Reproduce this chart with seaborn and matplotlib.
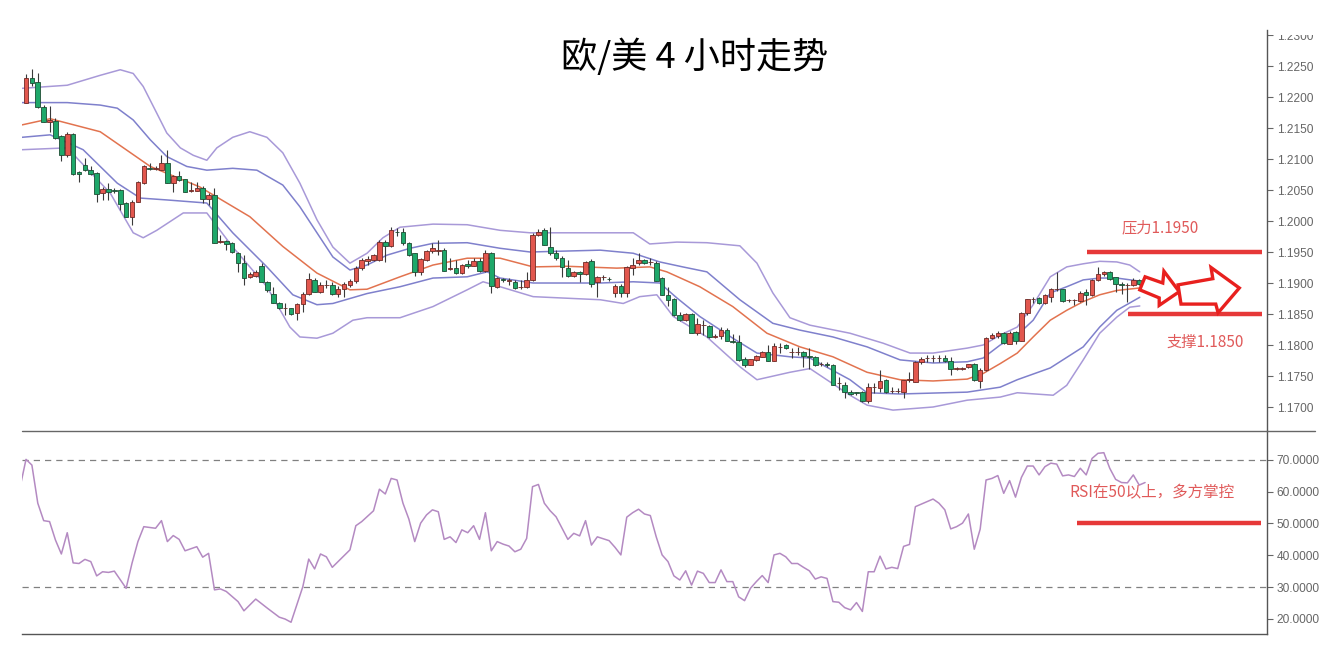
import numpy as np
import pandas as pd
import seaborn as sns
import matplotlib.pyplot as plt
from matplotlib.patches import Polygon, Rectangle
from matplotlib.lines import Line2D
from matplotlib.ticker import FormatStrFormatter

# ---- 4h candles (index 0 = first bar on the left) ----
candle_open = [
    1.2191, 1.2230, 1.2224, 1.2184, 1.2159, 1.2162, 1.2137, 1.2106, 1.2140, 1.2079,
    1.2091, 1.2083, 1.2078, 1.2045, 1.2052, 1.2050, 1.2050, 1.2029, 1.2007, 1.2031,
    1.2061, 1.2085, 1.2084, 1.2083, 1.2094, 1.2062, 1.2073, 1.2067, 1.2049, 1.2049,
    1.2053, 1.2035, 1.2042, 1.1966, 1.1968, 1.1965, 1.1949, 1.1933, 1.1909, 1.1912,
    1.1927, 1.1902, 1.1883, 1.1868, 1.1859, 1.1859, 1.1851, 1.1866, 1.1882, 1.1905,
    1.1886, 1.1896, 1.1897, 1.1882, 1.1890, 1.1897, 1.1903, 1.1925, 1.1935, 1.1937,
    1.1937, 1.1966, 1.1960, 1.1983, 1.1983, 1.1964, 1.1948, 1.1918, 1.1937, 1.1951,
    1.1951, 1.1954, 1.1923, 1.1924, 1.1916, 1.1931, 1.1928, 1.1936, 1.1919, 1.1948,
    1.1894, 1.1906, 1.1904, 1.1902, 1.1893, 1.1893, 1.1905, 1.1977, 1.1985, 1.1958,
    1.1948, 1.1941, 1.1925, 1.1911, 1.1918, 1.1914, 1.1935, 1.1901, 1.1909, 1.1907,
    1.1884, 1.1895, 1.1884, 1.1924, 1.1932, 1.1937, 1.1934, 1.1933, 1.1908, 1.1881,
    1.1874, 1.1848, 1.1840, 1.1850, 1.1820, 1.1832, 1.1831, 1.1813, 1.1815, 1.1825,
    1.1806, 1.1805, 1.1777, 1.1768, 1.1776, 1.1781, 1.1789, 1.1775, 1.1797, 1.1800,
    1.1788, 1.1788, 1.1788, 1.1782, 1.1781, 1.1769, 1.1769, 1.1768, 1.1738, 1.1735,
    1.1725, 1.1724, 1.1725, 1.1709, 1.1732, 1.1730, 1.1744, 1.1726, 1.1726, 1.1725,
    1.1744, 1.1741, 1.1772, 1.1779, 1.1779, 1.1779, 1.1779, 1.1774, 1.1762, 1.1762,
    1.1764, 1.1770, 1.1742, 1.1759, 1.1812, 1.1814, 1.1819, 1.1802, 1.1821, 1.1807,
    1.1852, 1.1874, 1.1876, 1.1867, 1.1878, 1.1890, 1.1890, 1.1872, 1.1872, 1.1871,
    1.1885, 1.1880, 1.1905, 1.1914, 1.1917, 1.1909, 1.1899, 1.1897, 1.1897, 1.1905,
    1.1898,
]
candle_close = [
    1.2230, 1.2223, 1.2184, 1.2160, 1.2163, 1.2134, 1.2106, 1.2140, 1.2076, 1.2076,
    1.2082, 1.2076, 1.2043, 1.2051, 1.2047, 1.2049, 1.2027, 1.2007, 1.2031, 1.2063,
    1.2088, 1.2084, 1.2085, 1.2094, 1.2062, 1.2073, 1.2066, 1.2047, 1.2049, 1.2053,
    1.2035, 1.2042, 1.1965, 1.1967, 1.1963, 1.1950, 1.1933, 1.1908, 1.1914, 1.1917,
    1.1902, 1.1888, 1.1868, 1.1859, 1.1859, 1.1850, 1.1866, 1.1883, 1.1906, 1.1886,
    1.1897, 1.1896, 1.1882, 1.1890, 1.1898, 1.1903, 1.1924, 1.1937, 1.1939, 1.1945,
    1.1966, 1.1960, 1.1986, 1.1982, 1.1964, 1.1945, 1.1918, 1.1938, 1.1951, 1.1956,
    1.1954, 1.1920, 1.1924, 1.1916, 1.1929, 1.1928, 1.1936, 1.1919, 1.1948, 1.1895,
    1.1908, 1.1905, 1.1904, 1.1892, 1.1893, 1.1905, 1.1977, 1.1983, 1.1961, 1.1948,
    1.1941, 1.1926, 1.1911, 1.1918, 1.1915, 1.1934, 1.1899, 1.1910, 1.1909, 1.1906,
    1.1895, 1.1884, 1.1926, 1.1929, 1.1937, 1.1932, 1.1934, 1.1904, 1.1881, 1.1873,
    1.1848, 1.1840, 1.1850, 1.1820, 1.1834, 1.1832, 1.1813, 1.1814, 1.1824, 1.1807,
    1.1805, 1.1776, 1.1768, 1.1777, 1.1782, 1.1788, 1.1775, 1.1798, 1.1797, 1.1795,
    1.1788, 1.1788, 1.1782, 1.1781, 1.1768, 1.1769, 1.1768, 1.1736, 1.1738, 1.1725,
    1.1721, 1.1722, 1.1709, 1.1733, 1.1732, 1.1742, 1.1725, 1.1726, 1.1726, 1.1743,
    1.1744, 1.1773, 1.1777, 1.1779, 1.1779, 1.1779, 1.1774, 1.1761, 1.1762, 1.1762,
    1.1769, 1.1743, 1.1759, 1.1811, 1.1816, 1.1819, 1.1803, 1.1820, 1.1807, 1.1852,
    1.1874, 1.1874, 1.1867, 1.1880, 1.1890, 1.1890, 1.1871, 1.1872, 1.1872, 1.1884,
    1.1880, 1.1905, 1.1915, 1.1917, 1.1907, 1.1899, 1.1897, 1.1897, 1.1905, 1.1898,
    1.1901,
]
candle_high = [
    1.2237, 1.2245, 1.2239, 1.2187, 1.2186, 1.2166, 1.2139, 1.2144, 1.2142, 1.2081,
    1.2101, 1.2088, 1.2079, 1.2055, 1.2061, 1.2053, 1.2052, 1.2030, 1.2034, 1.2065,
    1.2090, 1.2093, 1.2088, 1.2106, 1.2115, 1.2074, 1.2080, 1.2068, 1.2063, 1.2063,
    1.2056, 1.2045, 1.2053, 1.1977, 1.1970, 1.1966, 1.1950, 1.1945, 1.1918, 1.1921,
    1.1932, 1.1903, 1.1894, 1.1870, 1.1867, 1.1860, 1.1867, 1.1886, 1.1916, 1.1908,
    1.1902, 1.1905, 1.1902, 1.1895, 1.1902, 1.1906, 1.1928, 1.1941, 1.1944, 1.1947,
    1.1969, 1.1969, 1.1991, 1.1989, 1.1989, 1.1966, 1.1949, 1.1940, 1.1953, 1.1964,
    1.1969, 1.1956, 1.1940, 1.1937, 1.1931, 1.1937, 1.1940, 1.1940, 1.1953, 1.1950,
    1.1910, 1.1908, 1.1908, 1.1905, 1.1905, 1.1918, 1.1980, 1.1987, 1.1988, 1.1990,
    1.1953, 1.1943, 1.1937, 1.1920, 1.1919, 1.1936, 1.1938, 1.1911, 1.1913, 1.1910,
    1.1899, 1.1898, 1.1928, 1.1940, 1.1948, 1.1939, 1.1940, 1.1935, 1.1909, 1.1894,
    1.1876, 1.1854, 1.1851, 1.1851, 1.1843, 1.1840, 1.1833, 1.1818, 1.1829, 1.1827,
    1.1818, 1.1816, 1.1781, 1.1778, 1.1784, 1.1790, 1.1800, 1.1803, 1.1803, 1.1801,
    1.1795, 1.1797, 1.1790, 1.1795, 1.1782, 1.1772, 1.1772, 1.1769, 1.1749, 1.1741,
    1.1727, 1.1725, 1.1726, 1.1738, 1.1738, 1.1760, 1.1745, 1.1733, 1.1730, 1.1744,
    1.1757, 1.1774, 1.1780, 1.1784, 1.1784, 1.1784, 1.1784, 1.1781, 1.1764, 1.1764,
    1.1770, 1.1771, 1.1763, 1.1813, 1.1820, 1.1822, 1.1821, 1.1822, 1.1823, 1.1854,
    1.1875, 1.1878, 1.1878, 1.1882, 1.1892, 1.1917, 1.1891, 1.1875, 1.1875, 1.1887,
    1.1890, 1.1906, 1.1926, 1.1919, 1.1920, 1.1910, 1.1902, 1.1900, 1.1908, 1.1906,
    1.1904,
]
candle_low = [
    1.2190, 1.2217, 1.2183, 1.2159, 1.2144, 1.2133, 1.2096, 1.2103, 1.2074, 1.2063,
    1.2080, 1.2074, 1.2031, 1.2034, 1.2034, 1.2045, 1.2018, 1.2006, 1.1994, 1.2030,
    1.2060, 1.2082, 1.2082, 1.2082, 1.2061, 1.2047, 1.2065, 1.2046, 1.2047, 1.2048,
    1.2029, 1.2026, 1.1964, 1.1964, 1.1953, 1.1949, 1.1918, 1.1897, 1.1908, 1.1910,
    1.1901, 1.1886, 1.1867, 1.1858, 1.1848, 1.1848, 1.1840, 1.1854, 1.1881, 1.1885,
    1.1884, 1.1892, 1.1881, 1.1878, 1.1878, 1.1893, 1.1900, 1.1921, 1.1929, 1.1935,
    1.1935, 1.1934, 1.1958, 1.1976, 1.1961, 1.1944, 1.1911, 1.1913, 1.1936, 1.1948,
    1.1945, 1.1919, 1.1921, 1.1914, 1.1914, 1.1924, 1.1927, 1.1918, 1.1917, 1.1884,
    1.1892, 1.1901, 1.1897, 1.1890, 1.1890, 1.1892, 1.1904, 1.1976, 1.1961, 1.1945,
    1.1937, 1.1910, 1.1910, 1.1909, 1.1902, 1.1913, 1.1893, 1.1877, 1.1905, 1.1903,
    1.1877, 1.1877, 1.1878, 1.1913, 1.1929, 1.1931, 1.1929, 1.1903, 1.1880, 1.1863,
    1.1847, 1.1838, 1.1839, 1.1819, 1.1816, 1.1816, 1.1812, 1.1812, 1.1809, 1.1806,
    1.1803, 1.1775, 1.1765, 1.1767, 1.1775, 1.1780, 1.1774, 1.1774, 1.1787, 1.1794,
    1.1779, 1.1784, 1.1765, 1.1762, 1.1766, 1.1766, 1.1764, 1.1735, 1.1727, 1.1715,
    1.1719, 1.1719, 1.1708, 1.1706, 1.1722, 1.1725, 1.1722, 1.1722, 1.1722, 1.1714,
    1.1741, 1.1740, 1.1770, 1.1773, 1.1773, 1.1773, 1.1773, 1.1752, 1.1760, 1.1760,
    1.1763, 1.1742, 1.1730, 1.1758, 1.1810, 1.1812, 1.1802, 1.1801, 1.1802, 1.1806,
    1.1848, 1.1868, 1.1866, 1.1866, 1.1870, 1.1887, 1.1870, 1.1869, 1.1864, 1.1870,
    1.1864, 1.1879, 1.1904, 1.1912, 1.1905, 1.1886, 1.1883, 1.1870, 1.1895, 1.1897,
    1.1896,
]

# ---- Bollinger lines: (bar index, price) ----
upper_outer = [(-0.7, 1.2214), (7.0, 1.2219), (12.6, 1.2235), (16.0, 1.2244), (18.2, 1.2238),
               (19.9, 1.2217), (22.2, 1.2174), (23.9, 1.2142), (26.2, 1.2118), (28.4, 1.2106),
               (30.7, 1.2098), (32.4, 1.2118), (35.1, 1.2135), (38.0, 1.2144), (40.9, 1.2135),
               (43.6, 1.2110), (46.5, 1.2061), (49.4, 1.2002), (52.1, 1.1958), (55.0, 1.1932),
               (57.9, 1.1948), (60.6, 1.1973), (63.5, 1.1990), (69.1, 1.1995), (74.9, 1.1994),
               (80.5, 1.1985), (85.6, 1.1981), (97.5, 1.1981), (103.1, 1.1981), (105.9, 1.1963),
               (110.5, 1.1966), (115.6, 1.1965), (121.2, 1.1960), (124.1, 1.1932), (126.8, 1.1884),
               (129.7, 1.1844), (133.1, 1.1832), (139.9, 1.1819), (145.5, 1.1803), (150.1, 1.1787),
               (154.0, 1.1787), (159.8, 1.1795), (162.5, 1.1800), (165.4, 1.1816), (168.3, 1.1829),
               (171.0, 1.1865), (173.9, 1.1910), (176.7, 1.1926), (179.5, 1.1931), (182.3, 1.1935),
               (185.2, 1.1934), (187.4, 1.1929), (189.1, 1.1918)]
upper_inner = [(-0.7, 1.2191), (7.0, 1.2191), (12.6, 1.2187), (15.5, 1.2182), (18.2, 1.2163),
               (21.1, 1.2131), (23.9, 1.2104), (27.3, 1.2088), (30.7, 1.2082), (35.1, 1.2085),
               (39.2, 1.2082), (43.6, 1.2058), (46.5, 1.2023), (49.4, 1.1981), (52.1, 1.1942),
               (55.0, 1.1921), (57.9, 1.1929), (61.3, 1.1945), (65.2, 1.1956), (69.1, 1.1964),
               (74.9, 1.1965), (80.5, 1.1956), (85.6, 1.1950), (97.5, 1.1953), (103.1, 1.1948),
               (107.6, 1.1934), (111.5, 1.1926), (115.6, 1.1918), (121.2, 1.1873), (126.8, 1.1835),
               (131.4, 1.1824), (137.0, 1.1813), (142.8, 1.1797), (148.4, 1.1776), (154.0, 1.1771),
               (159.8, 1.1773), (162.5, 1.1779), (165.4, 1.1800), (168.3, 1.1816), (171.0, 1.1840),
               (173.9, 1.1884), (176.7, 1.1894), (179.5, 1.1905), (182.3, 1.1908), (185.2, 1.1908),
               (189.1, 1.1903)]
middle = [(-0.7, 1.2155), (4.1, 1.2165), (12.6, 1.2144), (21.1, 1.2088), (29.5, 1.2055),
          (38.0, 1.2007), (43.6, 1.1959), (49.4, 1.1916), (55.0, 1.1889), (57.9, 1.1890),
          (63.5, 1.1910), (69.1, 1.1929), (74.9, 1.1940), (80.5, 1.1940), (86.1, 1.1926),
          (91.8, 1.1927), (100.3, 1.1924), (105.9, 1.1926), (108.8, 1.1918), (114.4, 1.1894),
          (120.0, 1.1862), (125.8, 1.1819), (131.4, 1.1797), (137.0, 1.1781), (142.8, 1.1756),
          (148.4, 1.1744), (154.0, 1.1742), (159.8, 1.1745), (162.5, 1.1754), (165.4, 1.1770),
          (168.3, 1.1787), (171.0, 1.1813), (173.9, 1.1840), (176.7, 1.1856), (179.5, 1.1870),
          (182.3, 1.1881), (185.2, 1.1888), (189.1, 1.1892)]
lower_inner = [(-0.7, 1.2135), (4.1, 1.2139), (9.7, 1.2115), (15.5, 1.2061), (19.4, 1.2037),
               (23.9, 1.2034), (30.7, 1.2029), (35.1, 1.1981), (40.9, 1.1926), (45.3, 1.1881),
               (49.4, 1.1865), (52.1, 1.1867), (57.9, 1.1883), (63.5, 1.1894), (69.1, 1.1908),
               (74.9, 1.1910), (78.3, 1.1918), (80.5, 1.1908), (86.1, 1.1900), (97.5, 1.1900),
               (103.1, 1.1902), (107.6, 1.1900), (110.5, 1.1876), (114.4, 1.1846), (120.0, 1.1811),
               (124.1, 1.1787), (129.7, 1.1781), (133.1, 1.1779), (139.9, 1.1744), (142.8, 1.1723),
               (148.4, 1.1721), (159.8, 1.1724), (165.4, 1.1732), (168.3, 1.1744), (173.9, 1.1763),
               (179.5, 1.1797), (182.3, 1.1829), (185.2, 1.1856), (189.1, 1.1877)]
lower_outer = [(-0.7, 1.2115), (7.0, 1.2118), (14.3, 1.2045), (18.2, 1.1981), (19.9, 1.1973),
               (22.2, 1.1985), (26.7, 1.2013), (30.7, 1.2013), (35.1, 1.1958), (40.9, 1.1894),
               (44.8, 1.1829), (46.5, 1.1813), (49.4, 1.1811), (52.1, 1.1819), (55.5, 1.1840),
               (57.9, 1.1844), (63.5, 1.1844), (69.1, 1.1862), (74.9, 1.1889), (77.6, 1.1902),
               (80.5, 1.1894), (86.1, 1.1878), (97.5, 1.1873), (101.4, 1.1867), (104.2, 1.1878),
               (107.1, 1.1881), (109.9, 1.1846), (115.6, 1.1813), (121.2, 1.1765), (124.1, 1.1744),
               (129.7, 1.1756), (133.1, 1.1762), (139.9, 1.1719), (142.8, 1.1703), (147.2, 1.1695),
               (154.0, 1.1700), (159.8, 1.1711), (165.4, 1.1716), (168.3, 1.1723), (174.4, 1.1719),
               (176.7, 1.1735), (179.5, 1.1776), (182.3, 1.1819), (185.2, 1.1845), (187.4, 1.1861),
               (189.1, 1.1863)]

# ---- RSI: (bar index, value) ----
rsi_points = [
    (-1, 61.5), (0, 70.2), (1, 68.4), (2, 56.4), (3, 50.9), (4, 50.6), (5, 44.8), (6, 40.4),
    (7, 47.1), (8, 37.6), (9, 37.4), (10, 38.7), (11, 38.0), (12, 33.5), (13, 34.8), (14, 34.6),
    (15, 35.0), (17, 29.6), (18, 37.5), (19, 44.3), (20, 49.0), (22, 48.5), (23, 50.9), (24, 44.3),
    (25, 46.2), (26, 45.0), (27, 41.4), (29, 42.7), (30, 39.4), (31, 40.6), (32, 29.1), (33, 29.4),
    (34, 28.6), (36, 25.4), (37, 22.5), (39, 26.2), (41, 23.3), (43, 20.5), (44, 19.9), (45, 18.9),
    (47, 30.1), (48, 38.8), (49, 35.7), (50, 40.4), (51, 39.5), (52, 36.2), (55, 41.7), (56, 49.3),
    (57, 50.6), (59, 54.0), (60, 60.8), (61, 59.3), (62, 64.2), (63, 63.7), (64, 56.4), (65, 51.4),
    (66, 44.3), (67, 50.1), (68, 52.7), (69, 54.3), (70, 53.7), (71, 45.0), (72, 45.8), (73, 44.0),
    (74, 48.0), (75, 47.1), (76, 49.3), (77, 45.0), (78, 53.4), (79, 41.4), (80, 44.3), (81, 43.5),
    (82, 42.9), (83, 41.1), (84, 41.9), (85, 45.3), (86, 61.6), (87, 62.3), (88, 56.4), (89, 54.0),
    (90, 52.1), (92, 45.0), (93, 46.9), (94, 46.1), (95, 50.9), (96, 43.2), (97, 45.8), (99, 44.6),
    (100, 42.5), (101, 40.1), (102, 52.0), (103, 53.4), (104, 54.5), (105, 53.0), (106, 52.5),
    (107, 45.8), (108, 40.1), (109, 38.0), (110, 33.5), (111, 32.2), (112, 35.1), (113, 30.6),
    (114, 35.0), (115, 34.3), (116, 31.4), (117, 31.4), (118, 35.4), (119, 31.7), (120, 31.7),
    (121, 26.9), (122, 25.7), (123, 29.6), (124, 31.7), (125, 33.6), (126, 31.4), (127, 40.1),
    (128, 40.6), (129, 39.5), (130, 37.4), (131, 37.4), (132, 36.2), (133, 35.1), (134, 32.5),
    (135, 33.2), (136, 32.7), (137, 25.4), (138, 25.2), (139, 23.5), (140, 22.8), (141, 25.1),
    (142, 22.3), (143, 34.8), (144, 34.8), (145, 39.7), (146, 35.7), (147, 36.2), (148, 35.8),
    (149, 42.8), (150, 43.4), (151, 55.3), (152, 56.1), (153, 56.9), (154, 57.7), (155, 56.4),
    (156, 54.3), (157, 48.3), (158, 49.0), (159, 50.1), (160, 53.0), (161, 41.9), (162, 48.2),
    (163, 63.7), (164, 64.2), (165, 65.1), (166, 59.5), (167, 63.5), (168, 58.3), (169, 64.5),
    (170, 68.1), (171, 68.1), (172, 65.3), (173, 67.9), (174, 69.0), (175, 68.7), (176, 65.0),
    (177, 65.3), (178, 64.8), (179, 67.4), (180, 65.3), (181, 70.5), (182, 72.1), (183, 72.3),
    (184, 67.4), (185, 63.9), (186, 62.9), (187, 62.8), (188, 65.3), (189, 62.1), (190, 62.9),
]

resistance = 1.1950
support = 1.1850
price_ticks = [1.17, 1.175, 1.18, 1.185, 1.19, 1.195, 1.20, 1.205, 1.21, 1.215, 1.22, 1.225, 1.23]
rsi_ticks = [20, 30, 40, 50, 60, 70]

sns.set_theme(style='white')
plt.rcParams['font.family'] = ['Liberation Sans', 'Noto Sans CJK SC', 'DejaVu Sans']
cjk = ['Noto Sans CJK SC', 'DejaVu Sans']

W, H = 1329, 646
fig = plt.figure(figsize=(W / 100, H / 100), dpi=100)
ax1 = fig.add_axes([22 / W, 1 - 431 / H, (1267 - 22) / W, (431 - 30) / H])
ax2 = fig.add_axes([22 / W, 1 - 634 / H, (1267 - 22) / W, (634 - 431) / H])

kline = pd.DataFrame({'open': candle_open, 'high': candle_high,
                      'low': candle_low, 'close': candle_close})
kline['idx'] = np.arange(len(kline))
up = kline['close'] >= kline['open']

# bollinger bands (drawn under the candles)
band_df = pd.concat([
    pd.DataFrame(pts, columns=['idx', 'price']).assign(line=name)
    for name, pts in [('uo', upper_outer), ('ui', upper_inner), ('mid', middle),
                      ('li', lower_inner), ('lo', lower_outer)]
])
band_colors = {'uo': '#a899d8', 'ui': '#7f80cc', 'mid': '#e2734f', 'li': '#7f80cc', 'lo': '#a899d8'}
sns.lineplot(data=band_df, x='idx', y='price', hue='line', palette=band_colors,
             estimator=None, sort=False, legend=False, lw=1.1, ax=ax1, zorder=1)

# candles
ax1.vlines(kline['idx'], kline['low'], kline['high'], colors='#3a3a3a', lw=0.8, zorder=2)
body_h = (kline['close'] - kline['open']).abs().clip(lower=0.00004)
body_b = kline[['open', 'close']].min(axis=1)
ax1.bar(kline['idx'], body_h, bottom=body_b, width=0.78,
        color=np.where(up, '#e2574e', '#1ea86a'),
        edgecolor=np.where(up, '#6e2a26', '#1d4d33'), linewidth=0.6, zorder=3)

ax1.set_xlim(-0.68, 210.7)
ax1.set_ylim(1.16613, 1.23081)

# support / resistance
ax1.hlines(resistance, 180.1, 209.8, color='#e63838', lw=3.2, zorder=4)
ax1.hlines(support, 187.1, 209.8, color='#e63838', lw=3.2, zorder=4)
ax1.text(192.5, 1.1989, '压力1.1950', color='#e05a5a', fontsize=11, ha='center', va='center', family=cjk)
ax1.text(200.2, 1.1805, '支撑1.1850', color='#e05a5a', fontsize=11, ha='center', va='center', family=cjk)

arrow_a = [(190.0, 1.1910), (193.0, 1.1900), (193.2, 1.1919), (195.8, 1.1886),
           (192.4, 1.1864), (192.4, 1.1876), (189.1, 1.1889)]
arrow_b = [(195.6, 1.1897), (201.5, 1.1907), (201.2, 1.1925), (206.0, 1.1892),
           (202.4, 1.1852), (202.0, 1.1866), (196.1, 1.1866)]
for verts in (arrow_a, arrow_b):
    ax1.add_patch(Polygon(verts, closed=True, facecolor='white', edgecolor='#e8201e',
                          lw=2.4, joinstyle='miter', zorder=6))

# RSI panel
rsi_df = pd.DataFrame(rsi_points, columns=['idx', 'rsi'])
ax2.axhline(70, color='#808080', lw=0.9, ls=(0, (5, 4)), zorder=1)
ax2.axhline(30, color='#808080', lw=0.9, ls=(0, (5, 4)), zorder=1)
sns.lineplot(data=rsi_df, x='idx', y='rsi', color='#b48ac2', lw=1.1,
             estimator=None, sort=False, ax=ax2, zorder=2)
ax2.hlines(50, 178.4, 209.7, color='#e63838', lw=3.2, zorder=4)
ax2.text(191.2, 59.6, 'RSI在50以上，多方掌控', color='#e05a5a', fontsize=11.2,
         ha='center', va='center', family=cjk)
ax2.set_xlim(-0.68, 210.7)
ax2.set_ylim(15.2, 79.13)

for ax, ticks in ((ax1, price_ticks), (ax2, rsi_ticks)):
    ax.set_xticks([])
    ax.set_xlabel('')
    ax.set_ylabel('')
    ax.yaxis.tick_right()
    ax.set_yticks(ticks)
    ax.yaxis.set_major_formatter(FormatStrFormatter('%.4f'))
    ax.tick_params(axis='y', direction='out', length=4, width=0.8, color='#666666',
                   labelcolor='#666666', labelsize=8.6, pad=3)
    for side in ('top', 'left'):
        ax.spines[side].set_visible(False)
    ax.spines['right'].set_color('#555555')
    ax.spines['right'].set_linewidth(1.0)
    ax.patch.set_alpha(0)
ax1.spines['bottom'].set_visible(False)
ax2.spines['bottom'].set_color('#555555')
ax2.spines['bottom'].set_linewidth(1.0)

# separator between panels, running a bit past the price axis
fig.add_artist(Line2D([22 / W, 1315 / W], [1 - 431 / H, 1 - 431 / H], color='#666666', lw=1.0))
# top label is cut off in the source
fig.add_artist(Rectangle((1269 / W, 1 - 35 / H), 60 / W, 35 / H, transform=fig.transFigure,
                         facecolor='white', edgecolor='none', zorder=10))

fig.text(695 / W, 1 - 57 / H, '欧/美 4 小时走势', ha='center', va='center',
         fontsize=26, color='black', family=cjk)

fig.savefig('out.png', dpi=100, facecolor='white')
